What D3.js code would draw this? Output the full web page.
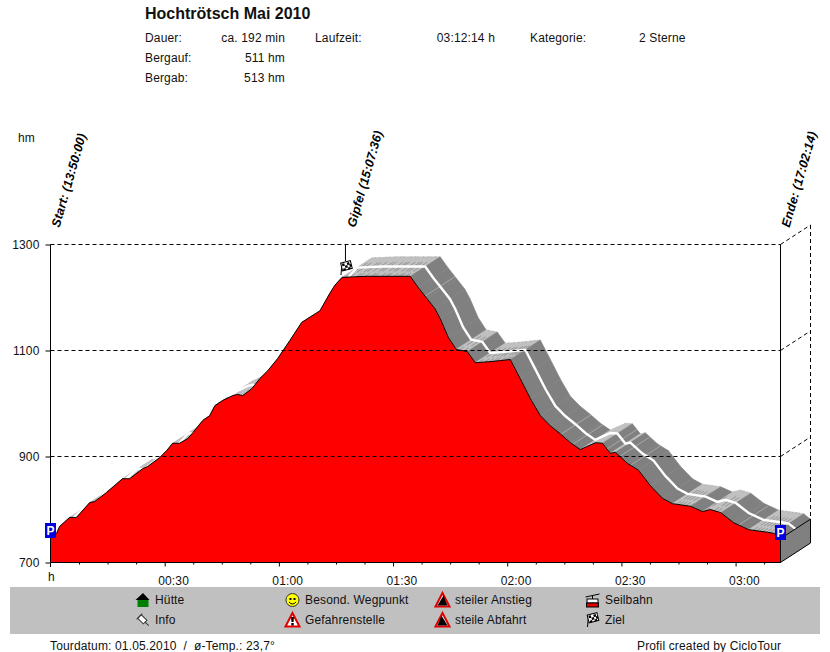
<!DOCTYPE html>
<html>
<head>
<meta charset="utf-8">
<script src="https://cdn.jsdelivr.net/npm/d3@7"></script>
<style>
html, body { margin: 0; padding: 0; background: #fff; }
text { font-family: "Liberation Sans", Arial, sans-serif; font-size: 12px; fill: #111; letter-spacing: 0.15px; }
</style>
</head>
<body>
<svg id="chart" width="830" height="652"></svg>
<script>
// profile, minutes since start / height in hm
var minutes = [0, 1.6, 2.4, 5, 6.8, 10.3, 11.6, 14.7, 18.9, 20.8, 24.2, 25.5, 28.7, 30.5, 32.1, 33.9, 36.1, 37.4, 40, 41.8,
    43.2, 45.3, 47.9, 49.2, 50.5, 52.9, 55, 57.1, 59.7, 62.9, 66, 70.8, 73.4, 74.7, 76.6, 83.2, 94.5, 96.6, 98.9, 101,
    102.4, 104.5, 106.6, 109.5, 111.6, 115.5, 118.2, 120.8, 123.4, 126.1, 128.7, 131.3, 133.9, 136.6, 139.2, 141, 143.2, 145, 147.1, 148.4,
    151.6, 154.5, 157.6, 160.8, 163.4, 168.2, 171.3, 173.4, 176.1, 179.5, 183.4, 188.4, 190, 191.8];
var heights = [747, 755, 768, 785, 785, 813, 815, 832, 858, 858, 877, 881, 898, 911, 925, 925, 934, 945, 968, 977,
    996, 1006, 1015, 1017, 1015, 1028, 1047, 1062, 1085, 1119, 1153, 1175, 1208, 1223, 1238, 1240, 1240, 1219, 1198, 1179,
    1160, 1125, 1102, 1098, 1077, 1079, 1081, 1083, 1047, 1009, 977, 958, 943, 926, 913, 919, 926, 925, 906, 908,
    887, 874, 845, 821, 811, 806, 796, 800, 794, 775, 762, 757, 755, 745];

// fine stripes across the ribbon
var darkHatch = [77.5, 78.6, 80.4, 81.2, 82.7, 84.3, 85.1, 86.9, 88, 88.6, 90.2, 91.4, 92.1, 93.3, 107.4, 108.6, 112.5, 114, 115.2, 116.3,
    117.1, 118.4, 119.3, 120.1, 164.4, 165.2, 166, 166.9, 168, 172, 174.4, 175.2, 184.6, 185.5, 186.3, 187.2, 188.1, 189];
var lightRibs = [98.4, 134.1, 137.2, 146.2, 149.6, 152.4, 180.8];

var yTicks = [700, 900, 1100, 1300];
var xTicks = [30, 60, 90, 120, 150, 180];
var xMinor = [7.5, 15, 22.5, 37.5, 45, 52.5, 67.5, 75, 82.5, 97.5, 105, 112.5, 127.5, 135, 142.5, 157.5, 165, 172.5, 187.5];
var xTickLabels = ['00:30', '01:00', '01:30', '02:00', '02:30', '03:00'];

var TITLE = 'Hochtrötsch Mai 2010';
var infoLeft = [['Dauer:', 'ca. 192 min'], ['Bergauf:', '511 hm'], ['Bergab:', '513 hm']];
var markLabels = [['Start: (13:50:00)', 0, 9], ['Gipfel (15:07:36)', 76.9, 12], ['Ende: (17:02:14)', 191.8, 9]];

var END_MIN = 191.8,
    DEPTH_X = 30,
    DEPTH_Y = -19.5,
    FLAT_SLOPE = -2.5;

var GREY = '#808080',
    LIGHT = '#c0c0c0';

var svg = d3.select('#chart');

var x = d3.scaleLinear().domain([0, END_MIN]).range([50.5, 780.5]);
var y = d3.scaleLinear().domain([700, 1300]).range([562.5, 244.5]);
var heightAt = d3.scaleLinear().domain(minutes).range(heights);

var profile = minutes.map(function (m, i) { return [x(m), y(heights[i])]; });

// ribbon behind the profile, one parallelogram per stretch
var ribbon = svg.append('g');
d3.pairs(d3.range(minutes.length)).forEach(function (p) {
    var a = profile[p[0]], b = profile[p[1]];
    var slope = (heights[p[1]] - heights[p[0]]) / (minutes[p[1]] - minutes[p[0]]);
    var col = slope > FLAT_SLOPE ? LIGHT : GREY;
    ribbon.append('path')
        .attr('d', 'M' + a + 'L' + b + 'L' + [b[0] + DEPTH_X, b[1] + DEPTH_Y] + 'L' + [a[0] + DEPTH_X, a[1] + DEPTH_Y] + 'Z')
        .attr('fill', col)
        .attr('stroke', col)
        .attr('stroke-width', 0.6);
});

function rib(list, col, dash, w) {
    ribbon.selectAll(null).data(list).enter().append('line')
        .attr('x1', function (d) { return x(d); })
        .attr('y1', function (d) { return y(heightAt(d)); })
        .attr('x2', function (d) { return x(d) + DEPTH_X; })
        .attr('y2', function (d) { return y(heightAt(d)) + DEPTH_Y; })
        .attr('stroke', col)
        .attr('stroke-width', w)
        .attr('stroke-dasharray', dash);
}
rib(darkHatch, '#989898', '6 3 8 2 7 9', 1);
rib(lightRibs, '#a8a8a8', null, 1);

// white middle line of the ribbon
ribbon.append('path')
    .attr('d', d3.line()(profile.map(function (p) { return [p[0] + DEPTH_X / 2, p[1] + DEPTH_Y / 2]; })))
    .attr('fill', 'none')
    .attr('stroke', '#fff')
    .attr('stroke-width', 2.4);

// side wall at the end
var last = profile[profile.length - 1];
svg.append('path')
    .attr('d', 'M' + last + 'L' + [last[0] + DEPTH_X, last[1] + DEPTH_Y] + 'L' + [x(END_MIN) + DEPTH_X, y(700) + DEPTH_Y] + 'L' + [x(END_MIN), y(700)] + 'Z')
    .attr('fill', GREY)
    .attr('stroke', '#000');

// profile area
svg.append('path')
    .attr('d', d3.area().y0(y(700)).x(function (p) { return p[0]; }).y1(function (p) { return p[1]; })(profile))
    .attr('fill', '#ff0000');
svg.append('path')
    .attr('d', d3.line()(profile))
    .attr('fill', 'none')
    .attr('stroke', '#000')
    .attr('stroke-width', 1);

// dashed grid, with the box at the back
var dashed = svg.append('g').attr('stroke', '#000').attr('stroke-dasharray', '4 3').attr('fill', 'none');
yTicks.slice(1).forEach(function (v) {
    dashed.append('line').attr('x1', x(0)).attr('x2', x(END_MIN)).attr('y1', y(v)).attr('y2', y(v));
    dashed.append('line').attr('x1', x(END_MIN)).attr('x2', x(END_MIN) + DEPTH_X).attr('y1', y(v)).attr('y2', y(v) + DEPTH_Y);
});
dashed.append('line').attr('x1', x(END_MIN) + DEPTH_X).attr('x2', x(END_MIN) + DEPTH_X)
    .attr('y1', y(1300) + DEPTH_Y).attr('y2', y(700) + DEPTH_Y);

// axes
var yAxis = d3.axisLeft(y).tickValues(yTicks).tickSize(5).tickPadding(6).tickFormat(d3.format('d'));
var yG = svg.append('g').attr('transform', 'translate(50.5,0)').call(yAxis);
yG.select('.domain').attr('d', 'M0,' + y(1300) + 'V' + y(700));

var xAxis = d3.axisBottom(x).tickValues(xTicks).tickSize(4).tickPadding(10)
    .tickFormat(function (d, i) { return xTickLabels[i]; });
var xG = svg.append('g').attr('transform', 'translate(0,562.5)').call(xAxis);
xG.select('.domain').attr('d', 'M' + x(0) + ',0H' + x(END_MIN));
xG.selectAll('.tick text').attr('text-anchor', 'start').attr('x', -7);
svg.append('g').attr('transform', 'translate(0,562.5)').call(
    d3.axisBottom(x).tickValues(xMinor).tickSize(2).tickFormat(''))
    .select('.domain').remove();
svg.selectAll('.tick text').style('font-family', '"Liberation Sans", Arial, sans-serif').style('font-size', '12px').attr('fill', '#111');
svg.append('line').attr('x1', x(0)).attr('x2', x(0)).attr('y1', 562.5).attr('y2', 567).attr('stroke', '#000');
svg.append('line').attr('x1', x(END_MIN)).attr('x2', x(END_MIN)).attr('y1', y(1300)).attr('y2', y(700)).attr('stroke', '#000');

function label(px, py, s, anchor, weight) {
    return svg.append('text').attr('x', px).attr('y', py).attr('text-anchor', anchor || 'start')
        .attr('font-weight', weight || null).text(s);
}

label(48, 581, 'h');
label(18, 142, 'hm');

// header
label(145, 19, TITLE, 'start', 'bold').style('font-size', '16px').style('letter-spacing', '0');
infoLeft.forEach(function (r, i) {
    label(145, 42 + i * 20, r[0]);
    label(285, 42 + i * 20, r[1], 'end');
});
label(315, 42, 'Laufzeit:');
label(495, 42, '03:12:14 h', 'end');
label(530, 42, 'Kategorie:');
label(639, 42, '2 Sterne');

// rotated labels
markLabels.forEach(function (d) {
    svg.append('text')
        .attr('transform', 'translate(' + (x(d[1]) + d[2]) + ',228) rotate(-74)')
        .attr('font-weight', 'bold')
        .attr('font-style', 'italic')
        .style('font-size', '12.5px')
        .style('fill', '#000')
        .text(d[0]);
});

// checkered flag on a short pole
function flag(g) {
    g.append('path').attr('d', 'M-5,7L-4,-5').attr('stroke', '#000');
    var f = g.append('g').attr('transform', 'rotate(-14)');
    f.append('rect').attr('x', -4).attr('y', -6).attr('width', 10).attr('height', 8).attr('fill', '#fff').attr('stroke', '#000');
    f.append('path').attr('d', 'M-3,-5h2.5v2.5h-2.5zM2,-5h2.5v2.5h-2.5zM-0.5,-2.5h2.5v2.5h-2.5zM4,-2.5h2v2.5h-2zM-3,0h2.5v2h-2.5zM2,0h2.5v2h-2.5z').attr('fill', '#000');
}

// summit flag
svg.append('line').attr('x1', x(77.5)).attr('x2', x(77.5)).attr('y1', y(1300)).attr('y2', 261).attr('stroke', '#000');
flag(svg.append('g').attr('transform', 'translate(' + (x(77.5) + 0.5) + ',268)'));

// parking signs
[[0, 530.5], [END_MIN, 532.5]].forEach(function (d) {
    var g = svg.append('g').attr('transform', 'translate(' + x(d[0]) + ',' + d[1] + ')');
    g.append('rect').attr('x', -5.5).attr('y', -7.5).attr('width', 11).attr('height', 15).attr('fill', '#0000e0');
    g.append('text').attr('text-anchor', 'middle').attr('y', 4.5).attr('font-weight', 'bold')
        .style('font-size', '12px').style('fill', '#fff').text('P');
});

// legend
svg.append('rect').attr('x', 10).attr('y', 587).attr('width', 810).attr('height', 47).attr('fill', LIGHT);
label(155, 604, 'Hütte');
label(155, 624, 'Info');
label(305, 604, 'Besond. Wegpunkt');
label(305, 624, 'Gefahrenstelle');
label(455, 604, 'steiler Anstieg');
label(455, 624, 'steile Abfahrt');
label(605, 604, 'Seilbahn');
label(605, 624, 'Ziel');

// hut
var hut = svg.append('g').attr('transform', 'translate(142.5,600)');
hut.append('rect').attr('x', -5).attr('y', 0).attr('width', 11).attr('height', 7).attr('fill', '#008000');
hut.append('path').attr('d', 'M-7,0L0.5,-7L7,0Z').attr('fill', '#000');

// info pin
var pin = svg.append('g').attr('transform', 'translate(143,620) rotate(-45)');
pin.append('rect').attr('x', -2.5).attr('y', -5).attr('width', 5).attr('height', 8).attr('fill', '#fff').attr('stroke', '#333');
pin.append('path').attr('d', 'M-4,-5H4M0,3V8').attr('stroke', '#333');

// smiley
var sm = svg.append('g').attr('transform', 'translate(292.5,600)');
sm.append('circle').attr('r', 6.5).attr('fill', '#ffff00').attr('stroke', '#333');
sm.append('path').attr('d', 'M-3,-2h2v2h-2zM1,-2h2v2h-2z').attr('fill', '#000');
sm.append('path').attr('d', 'M-3.5,2Q0,6 3.5,2').attr('fill', 'none').attr('stroke', '#000');

function triangle(px, py, inner) {
    var g = svg.append('g').attr('transform', 'translate(' + px + ',' + py + ')');
    g.append('path').attr('d', 'M0,-7L7,6.5H-7Z').attr('fill', '#fff').attr('stroke', '#e00000').attr('stroke-width', 2);
    g.append('path').attr('d', inner).attr('fill', '#000');
}
triangle(292.5, 620, 'M-1.5,-3H1.5L1,2H-1ZM-1.2,3H1.2V5.5H-1.2Z');
triangle(442.5, 600, 'M-5,5.5L1,-4.5L5,5.5Z');
triangle(442.5, 620, 'M-5,5.5L-1,-4.5L5,5.5Z');

// cable car
var cab = svg.append('g').attr('transform', 'translate(592.5,600)');
cab.append('path').attr('d', 'M-7,-3L7,-6M0,-5V-1').attr('stroke', '#000').attr('fill', 'none');
cab.append('rect').attr('x', -5.5).attr('y', -1).attr('width', 11).attr('height', 4).attr('fill', '#fff').attr('stroke', '#000');
cab.append('rect').attr('x', -6).attr('y', 3).attr('width', 12).attr('height', 4).attr('fill', '#e00000').attr('stroke', '#000');

flag(svg.append('g').attr('transform', 'translate(592.5,620)'));

// footer
label(50, 650, 'Tourdatum: 01.05.2010  /  ø-Temp.: 23,7°').style('white-space', 'pre');
label(637, 650, 'Profil created by CicloTour');
</script>
</body>
</html>
